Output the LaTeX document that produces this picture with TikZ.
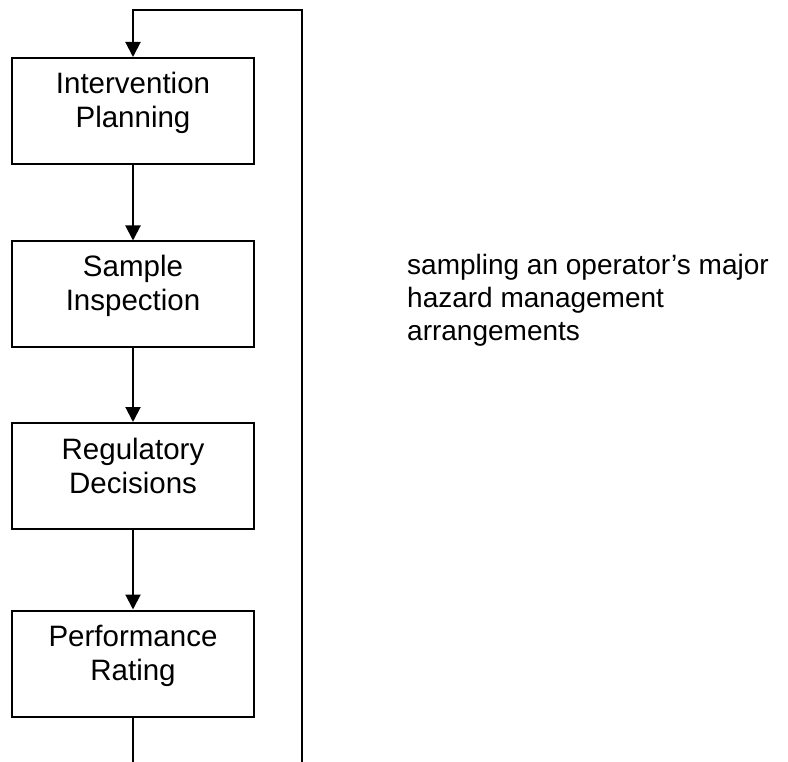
\documentclass[tikz,border=0pt]{standalone}
\usepackage{fontspec}
\setmainfont{Liberation Sans}
\usetikzlibrary{arrows.meta}
\begin{document}
\begin{tikzpicture}[x=1pt,y=1pt,
  stepbox/.style={draw, line width=2pt, rectangle, minimum width=242pt, minimum height=106pt, inner sep=0pt},
  boxtext/.style={anchor=base, inner sep=0pt, font=\fontsize{29.5}{34}\selectfont},
  flow/.style={line width=2pt, -{Triangle[length=15pt,width=15pt]}},
  note/.style={anchor=base west, inner sep=0pt, font=\fontsize{28}{33}\selectfont}]
\useasboundingbox (0,0) rectangle (788,-762);
\node[stepbox] (b1) at (133,-111) {};
\node[stepbox] (b2) at (133,-294.5) {};
\node[stepbox] (b3) at (133,-476) {};
\node[stepbox] (b4) at (133,-663.5) {};
\node[boxtext] (t1) at ([yshift=-37pt]b1.north) {\begin{tabular}[t]{@{}c@{}}Intervention\\Planning\end{tabular}};
\node[boxtext] (t2) at ([yshift=-36pt]b2.north) {\begin{tabular}[t]{@{}c@{}}Sample\\Inspection\end{tabular}};
\node[boxtext] (t3) at ([yshift=-37pt]b3.north) {\begin{tabular}[t]{@{}c@{}}Regulatory\\Decisions\end{tabular}};
\node[boxtext] (t4) at ([yshift=-37pt]b4.north) {\begin{tabular}[t]{@{}c@{}}Performance\\Rating\end{tabular}};
\node[note] (n1) at (407,-275) {\begin{tabular}[t]{@{}l@{}}sampling an operator’s major\\hazard management\\arrangements\end{tabular}};
\draw[flow] (b1.south) -- (b2.north);
\draw[flow] (b2.south) -- (b3.north);
\draw[flow] (b3.south) -- (b4.north);
\coordinate (lb) at (133,-790);
\coordinate (tr) at (302,-10);
\draw[flow] (b4.south) -- (lb) -| (tr) -| (b1.north);
\end{tikzpicture}
\end{document}
